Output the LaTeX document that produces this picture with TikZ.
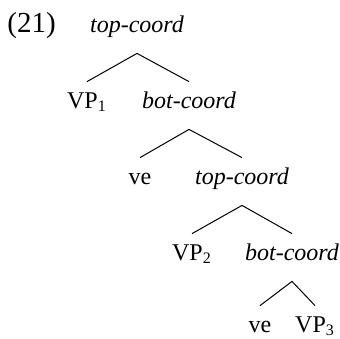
\documentclass[tikz,border=0pt]{standalone}
\usepackage{fontspec}
\setmainfont{Liberation Serif}

\tikzset{
  lbl/.style={anchor=base, inner xsep=1pt, inner ysep=0pt,
              text height=13pt, text depth=10.5pt},
  cat/.style={lbl, font=\fontsize{12}{14}\selectfont\itshape},
  branch/.style={line width=0.5pt}
}

\begin{document}
\begin{tikzpicture}[x=0.5pt,y=-0.5pt,font=\fontsize{12}{14}\selectfont]
    \useasboundingbox (0,0) rectangle (340,338);
    \node[anchor=base west, inner sep=0pt, font=\fontsize{14.5}{16}\selectfont]
      (ex) at (7,32) {(21)};
    % levels of the tree
    \node[cat] (top1) at (137,32) {top-coord};
    \node[lbl] (vp1)  at (87,108) {VP\textsubscript{1}};
    \node[cat] (bot1) at (189,108) {bot-coord};
    \node[lbl] (ve1)  at (140,184) {ve};
    \node[cat] (top2) at (242,184) {top-coord};
    \node[lbl] (vp2)  at (192,260) {VP\textsubscript{2}};
    \node[cat] (bot2) at (292,260) {bot-coord};
    \node[lbl] (ve2)  at (260,332) {ve};
    \node[lbl] (vp3)  at (315,332) {VP\textsubscript{3}};
    % branches
    \draw[branch] (vp1.north) -- (top1.south) -- (bot1.north);
    \draw[branch] (ve1.north) -- (bot1.south) -- (top2.north);
    \draw[branch] (vp2.north) -- (top2.south) -- (bot2.north);
    \draw[branch] (ve2.north) -- (bot2.south) -- (vp3.north);
\end{tikzpicture}
\end{document}
